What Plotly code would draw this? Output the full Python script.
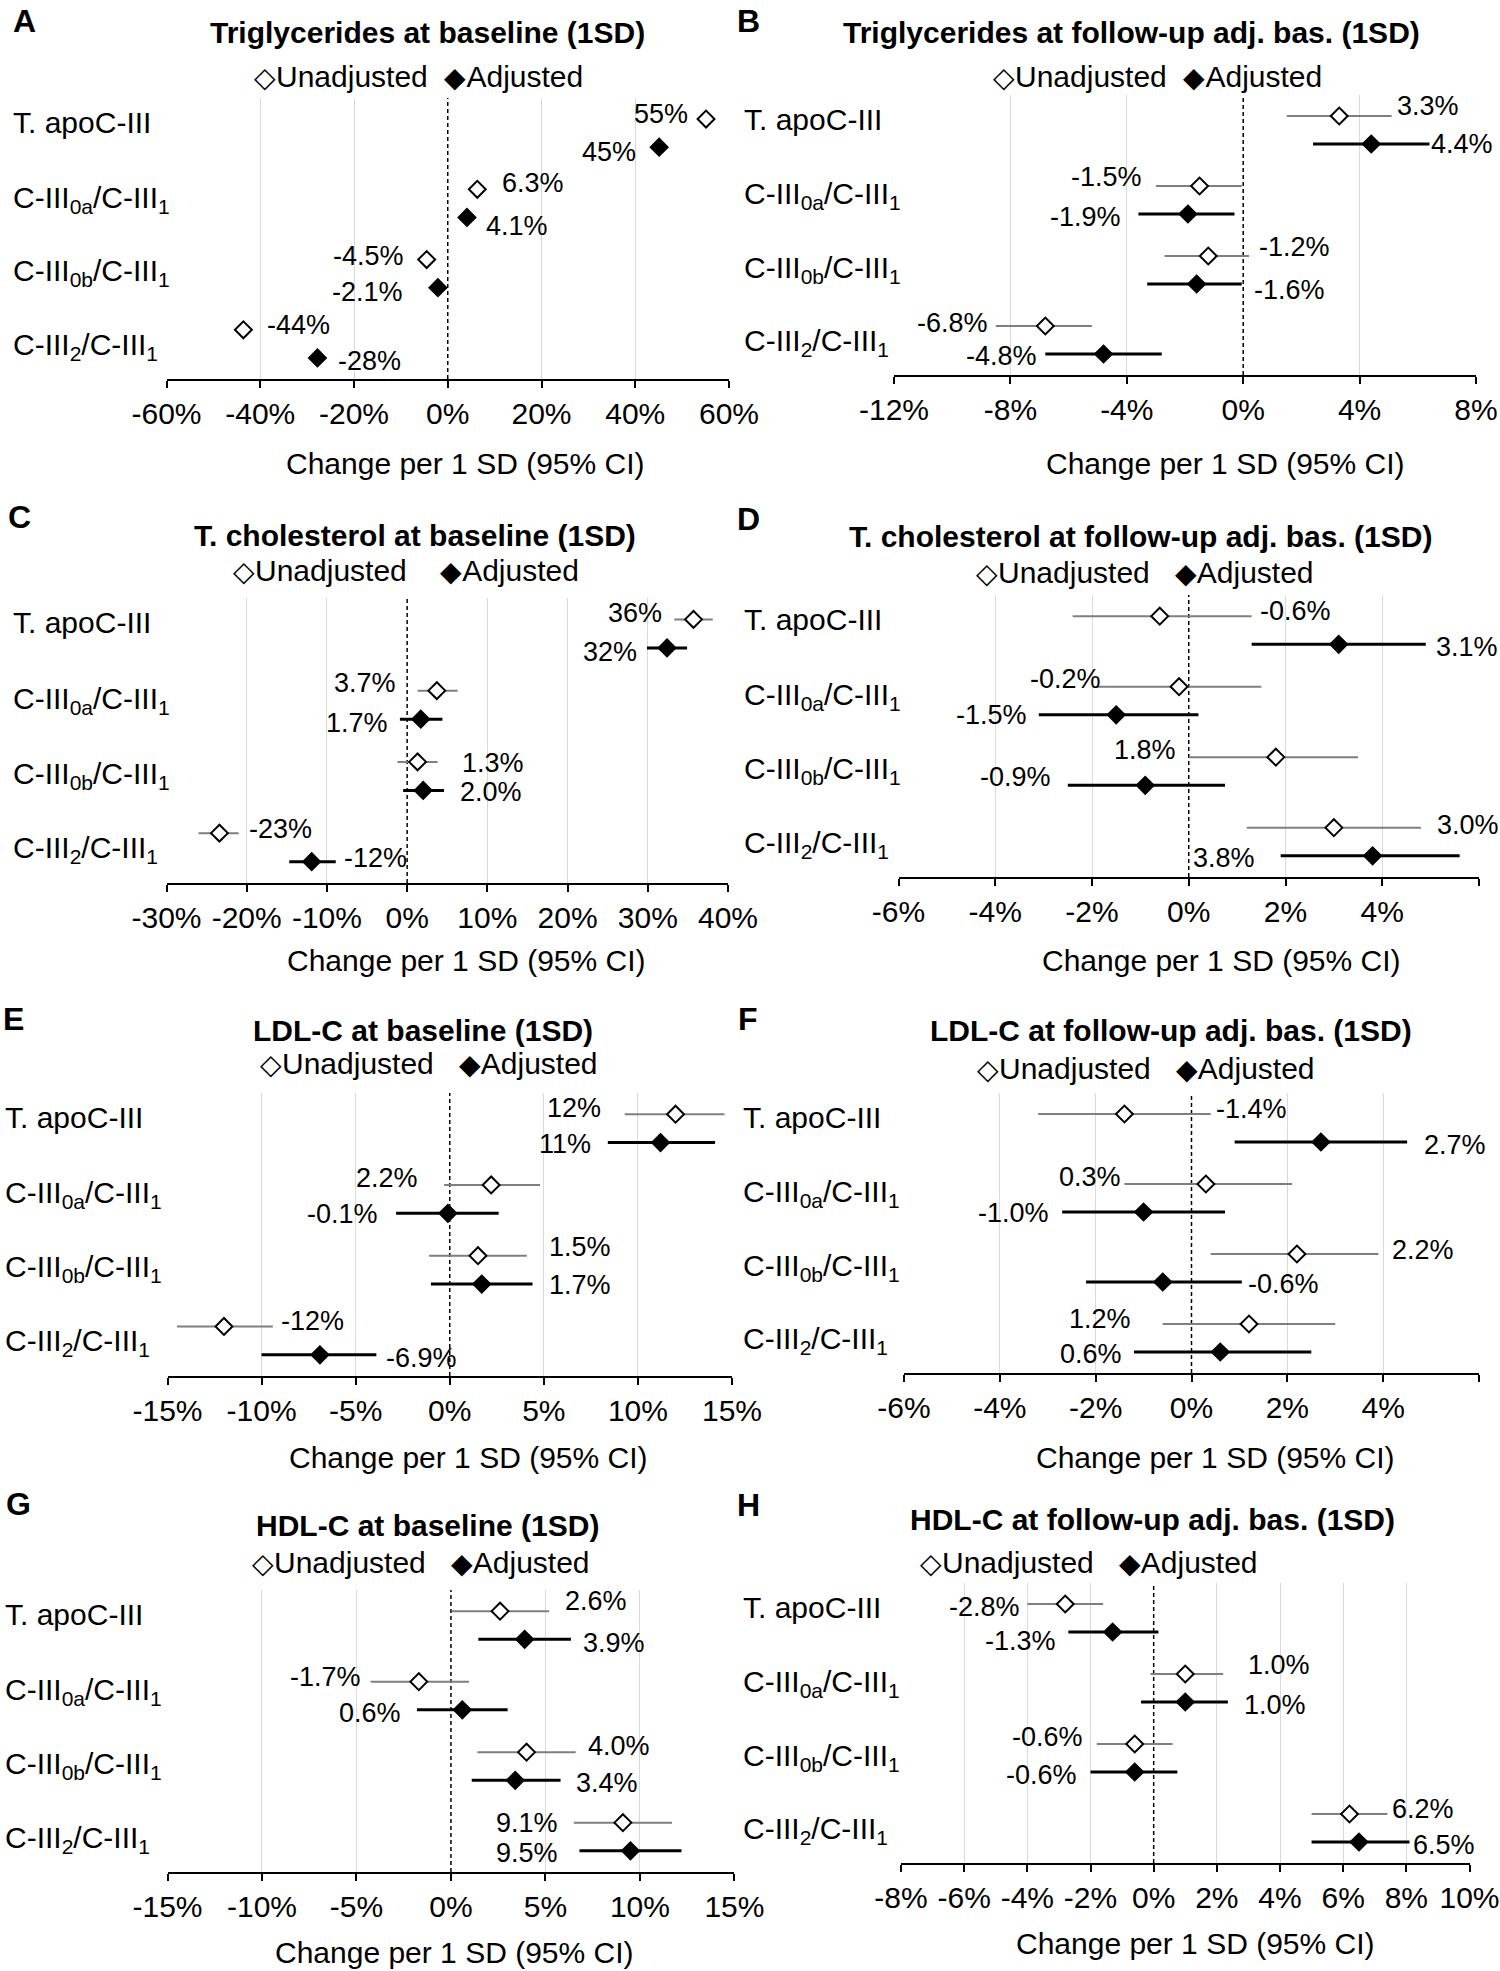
import plotly.graph_objects as go

W, H = 1500, 1971
FONT = "Arial, 'Liberation Sans', Helvetica, sans-serif"

# ---------------- data ----------------
CATEGORIES = ["T. apoC-III",
              "C-III<sub>0a</sub>/C-III<sub>1</sub>",
              "C-III<sub>0b</sub>/C-III<sub>1</sub>",
              "C-III<sub>2</sub>/C-III<sub>1</sub>"]
SERIES = ["Unadjusted", "Adjusted"]
AXIS_TITLE = "Change per 1 SD (95% CI)"

TITLE_A = "Triglycerides at baseline (1SD)"
TICKS_A = [-60, -40, -20, 0, 20, 40, 60]
UNADJ_A = [55.1, 6.3, -4.5, -43.6]
UNADJ_LO_A = [54.2, 5.6, -5.2, -44.5]
UNADJ_HI_A = [56.0, 7.0, -3.8, -42.7]
ADJ_A = [45.1, 4.1, -2.1, -27.8]
ADJ_LO_A = [43.9, 3.1, -3.1, -29.2]
ADJ_HI_A = [46.3, 5.1, -1.1, -26.4]

TITLE_B = "Triglycerides at follow-up adj. bas. (1SD)"
TICKS_B = [-12, -8, -4, 0, 4, 8]
UNADJ_B = [3.3, -1.5, -1.2, -6.8]
UNADJ_LO_B = [1.5, -3.0, -2.7, -8.5]
UNADJ_HI_B = [5.1, -0.05, 0.2, -5.2]
ADJ_B = [4.4, -1.9, -1.6, -4.8]
ADJ_LO_B = [2.4, -3.6, -3.3, -6.8]
ADJ_HI_B = [6.4, -0.3, -0.05, -2.8]

TITLE_C = "T. cholesterol at baseline (1SD)"
TICKS_C = [-30, -20, -10, 0, 10, 20, 30, 40]
UNADJ_C = [35.7, 3.7, 1.3, -23.4]
UNADJ_LO_C = [33.3, 1.3, -1.2, -26.0]
UNADJ_HI_C = [38.1, 6.3, 3.8, -21.0]
ADJ_C = [32.4, 1.7, 2.0, -11.9]
ADJ_LO_C = [29.9, -0.9, -0.5, -14.7]
ADJ_HI_C = [34.9, 4.4, 4.6, -8.9]

TITLE_D = "T. cholesterol at follow-up adj. bas. (1SD)"
TICKS_D = [-6, -4, -2, 0, 2, 4, 6]
UNADJ_D = [-0.6, -0.2, 1.8, 3.0]
UNADJ_LO_D = [-2.4, -1.9, 0.0, 1.2]
UNADJ_HI_D = [1.3, 1.5, 3.5, 4.8]
ADJ_D = [3.1, -1.5, -0.9, 3.8]
ADJ_LO_D = [1.3, -3.1, -2.5, 1.9]
ADJ_HI_D = [4.9, 0.2, 0.75, 5.6]

TITLE_E = "LDL-C at baseline (1SD)"
TICKS_E = [-15, -10, -5, 0, 5, 10, 15]
UNADJ_E = [12.0, 2.2, 1.5, -12.0]
UNADJ_LO_E = [9.3, -0.3, -1.1, -14.5]
UNADJ_HI_E = [14.6, 4.8, 4.1, -9.4]
ADJ_E = [11.2, -0.1, 1.7, -6.9]
ADJ_LO_E = [8.4, -2.85, -1.0, -10.0]
ADJ_HI_E = [14.1, 2.6, 4.4, -3.9]

TITLE_F = "LDL-C at follow-up adj. bas. (1SD)"
TICKS_F = [-6, -4, -2, 0, 2, 4, 6]
UNADJ_F = [-1.4, 0.3, 2.2, 1.2]
UNADJ_LO_F = [-3.2, -1.4, 0.4, -0.6]
UNADJ_HI_F = [0.4, 2.1, 3.9, 3.0]
ADJ_F = [2.7, -1.0, -0.6, 0.6]
ADJ_LO_F = [0.9, -2.7, -2.2, -1.2]
ADJ_HI_F = [4.5, 0.7, 1.05, 2.5]

TITLE_G = "HDL-C at baseline (1SD)"
TICKS_G = [-15, -10, -5, 0, 5, 10, 15]
UNADJ_G = [2.6, -1.7, 4.0, 9.1]
UNADJ_LO_G = [0.05, -4.25, 1.4, 6.5]
UNADJ_HI_G = [5.2, 0.95, 6.6, 11.7]
ADJ_G = [3.9, 0.6, 3.4, 9.5]
ADJ_LO_G = [1.45, -1.8, 1.1, 6.8]
ADJ_HI_G = [6.35, 3.0, 5.8, 12.2]

TITLE_H = "HDL-C at follow-up adj. bas. (1SD)"
TICKS_H = [-8, -6, -4, -2, 0, 2, 4, 6, 8, 10]
UNADJ_H = [-2.8, 1.0, -0.6, 6.2]
UNADJ_LO_H = [-4.0, -0.1, -1.8, 5.0]
UNADJ_HI_H = [-1.6, 2.2, 0.6, 7.4]
ADJ_H = [-1.3, 1.0, -0.6, 6.5]
ADJ_LO_H = [-2.7, -0.4, -2.0, 5.0]
ADJ_HI_H = [0.15, 2.35, 0.75, 8.1]

# ---------------- layout (pixel geometry / label placement) ----------------
GEOM = {
    "A": dict(x0=166.5, x1=729, y0=98, y1=379, title=(427, 32), legend=(418.5, 77), gap=2,
              xtitle=(466, 463), letter=(24, 21), labx=10.5),
    "B": dict(x0=894, x1=1476, y0=95, y1=375, title=(1131.5, 32), legend=(1157, 77), gap=2,
              xtitle=(1225, 463), letter=(748, 21), labx=742),
    "C": dict(x0=166.5, x1=728, y0=598, y1=883, title=(414.5, 535), legend=(406, 570), gap=4,
              xtitle=(466.5, 960), letter=(19, 517), labx=10.5),
    "D": dict(x0=898.5, x1=1479, y0=595, y1=877, title=(1140, 536), legend=(1144.5, 572), gap=3,
              xtitle=(1221.6, 960), letter=(748, 519), labx=742),
    "E": dict(x0=167.5, x1=732, y0=1093, y1=1376, title=(423, 1030), legend=(429, 1063), gap=3,
              xtitle=(468, 1457), letter=(13, 1019), labx=2.5),
    "F": dict(x0=904, x1=1479, y0=1093, y1=1373, title=(1171, 1030), legend=(1145.5, 1068), gap=3,
              xtitle=(1215, 1457), letter=(748, 1019), labx=740.5),
    "G": dict(x0=167.5, x1=734.4, y0=1590, y1=1872, title=(427.5, 1525), legend=(420.5, 1562), gap=3,
              xtitle=(454.5, 1952), letter=(18, 1504), labx=2.5),
    "H": dict(x0=901, x1=1469.5, y0=1583, y1=1863, title=(1152, 1519), legend=(1089, 1562), gap=3,
              xtitle=(1195.6, 1943), letter=(748, 1505), labx=740.5),
}

# data-label placement: order = [unadj1, adj1, unadj2, adj2, ...]
LABEL_SIDE = {
    "A": "LLRRLLRR", "B": "RRLLRRLL", "C": "LLLLRRRR", "D": "RRLLLLRL",
    "E": "LLLLRRRR", "F": "RRLLRRLL", "G": "RRLLRRLL", "H": "LLRRLLRR",
}
LABEL_DY = {
    "A": [5, -5, 6, -9, 4, -4, 5, -3],
    "B": [10, 0, 9, -3, 9, -6, 3, -2],
    "C": [6, -4, 8, -4, -1, -2, 4, 4],
    "D": [5, -3, 8, 0, 7, 8, 3, -2],
    "E": [6, -1, 7, -1, 9, -1, 5, -3],
    "F": [5, -3, 7, -1, 4, -2, 5, -2],
    "G": [10, -4, 5, -3, 6, -3, 0, -2],
    "H": [-3, -9, 9, -3, 7, -3, 5, -3],
}
LABEL_GAP = {
    "A": [7, 12, 14, 8, 12, 24, 13, 10],
    "B": [3, 0, 12, 15, 8, 10, 6, 6],
    "C": [10, 8, 20, 10, 22, 14, 8, 6],
    "D": [6, 8, -6, 10, 11, 15, 14, 24],
    "E": [22, 15, 24, 16, 20, 14, 6, 8],
    "F": [3, 15, 1, 11, 12, 4, 30, 10],
    "G": [14, 10, 8, 14, 10, 13, 14, 19],
    "H": [5, 10, 23, 14, 12, 12, 3, 2],
}

PANELS = [
    ("A", TITLE_A, TICKS_A, (UNADJ_A, UNADJ_LO_A, UNADJ_HI_A), (ADJ_A, ADJ_LO_A, ADJ_HI_A)),
    ("B", TITLE_B, TICKS_B, (UNADJ_B, UNADJ_LO_B, UNADJ_HI_B), (ADJ_B, ADJ_LO_B, ADJ_HI_B)),
    ("C", TITLE_C, TICKS_C, (UNADJ_C, UNADJ_LO_C, UNADJ_HI_C), (ADJ_C, ADJ_LO_C, ADJ_HI_C)),
    ("D", TITLE_D, TICKS_D, (UNADJ_D, UNADJ_LO_D, UNADJ_HI_D), (ADJ_D, ADJ_LO_D, ADJ_HI_D)),
    ("E", TITLE_E, TICKS_E, (UNADJ_E, UNADJ_LO_E, UNADJ_HI_E), (ADJ_E, ADJ_LO_E, ADJ_HI_E)),
    ("F", TITLE_F, TICKS_F, (UNADJ_F, UNADJ_LO_F, UNADJ_HI_F), (ADJ_F, ADJ_LO_F, ADJ_HI_F)),
    ("G", TITLE_G, TICKS_G, (UNADJ_G, UNADJ_LO_G, UNADJ_HI_G), (ADJ_G, ADJ_LO_G, ADJ_HI_G)),
    ("H", TITLE_H, TICKS_H, (UNADJ_H, UNADJ_LO_H, UNADJ_HI_H), (ADJ_H, ADJ_LO_H, ADJ_HI_H)),
]

STYLE = {
    "Unadjusted": dict(fill="white", line="black", ci="#7f7f7f", ciw=2, offset=0.2),
    "Adjusted": dict(fill="black", line="black", ci="black", ciw=3, offset=-0.2),
}
MARKER_SIZE = 13
MARKER_HALF = 9
TEXT_SIZE = 30
LABEL_SIZE = 27


def fmt(v):
    return f"{v:.0f}%" if abs(v) >= 9.95 else f"{v:.1f}%"


def px(x):
    return x / W


def py(y):
    return 1 - y / H


fig = go.Figure()
annotations = []
n_cat = len(CATEGORIES)

for k, (key, title, ticks, unadj, adj) in enumerate(PANELS, start=1):
    g = GEOM[key]
    sid = "" if k == 1 else str(k)
    xa, ya = "x" + sid, "y" + sid
    xmin, xmax = ticks[0], ticks[-1]
    ppu = (g["x1"] - g["x0"]) / (xmax - xmin)

    fig.update_layout(**{
        "xaxis" + sid: dict(
            domain=[px(g["x0"]), px(g["x1"])], anchor=ya, range=[xmin, xmax],
            tickvals=ticks, ticktext=[f"{t}%" for t in ticks], automargin=False,
            showline=True, linecolor="black", linewidth=2,
            ticks="outside", ticklen=7, tickwidth=2, tickcolor="black",
            showgrid=True, gridcolor="#d9d9d9", gridwidth=1, zeroline=False,
            tickfont=dict(size=TEXT_SIZE, color="black", family=FONT), fixedrange=True,
        ),
        "yaxis" + sid: dict(
            domain=[py(g["y1"]), py(g["y0"])], anchor=xa, range=[0.5, n_cat + 0.5],
            showticklabels=False, showgrid=False, zeroline=False, showline=False,
            ticks="", fixedrange=True, automargin=False,
        ),
    })

    # zero reference line (dashed), drawn through the axes' own scale
    fig.add_trace(go.Scatter(x=[0, 0], y=[0.5, n_cat + 0.5], mode="lines", showlegend=False,
                             hoverinfo="skip", xaxis=xa, yaxis=ya,
                             line=dict(color="white", width=3)))
    fig.add_trace(go.Scatter(x=[0, 0], y=[0.5, n_cat + 0.5], mode="lines", showlegend=False,
                             hoverinfo="skip", xaxis=xa, yaxis=ya,
                             line=dict(color="black", width=1.5, dash="4px,3px")))

    for s_idx, (name, (vals, lo, hi)) in enumerate(zip(SERIES, (unadj, adj))):
        st = STYLE[name]
        ys = [n_cat - i + st["offset"] for i in range(n_cat)]
        fig.add_trace(go.Scatter(
            x=vals, y=ys, mode="markers", name=name, showlegend=False,
            xaxis=xa, yaxis=ya, cliponaxis=False,
            marker=dict(symbol="diamond", size=MARKER_SIZE, color=st["fill"],
                        line=dict(color=st["line"], width=2)),
            error_x=dict(type="data", symmetric=False,
                         array=[h - v for v, h in zip(vals, hi)],
                         arrayminus=[v - l for v, l in zip(vals, lo)],
                         width=0, thickness=st["ciw"], color=st["ci"]),
        ))
        for i in range(n_cat):
            j = 2 * i + s_idx
            side = LABEL_SIDE[key][j]
            v = vals[i]
            if side == "R":
                ext = max((hi[i] - v) * ppu, MARKER_HALF) + LABEL_GAP[key][j]
                xanchor, xshift = "left", ext
            else:
                ext = max((v - lo[i]) * ppu, MARKER_HALF) + LABEL_GAP[key][j]
                xanchor, xshift = "right", -ext
            annotations.append(dict(
                x=v, y=ys[i], xref=xa, yref=ya, text=fmt(v), showarrow=False,
                xanchor=xanchor, yanchor="middle", xshift=xshift, yshift=LABEL_DY[key][j],
                font=dict(size=LABEL_SIZE, color="black", family=FONT),
            ))

    # category labels
    for i, cat in enumerate(CATEGORIES):
        ylab = n_cat - i + 0.15 - 0.047 * i
        annotations.append(dict(
            x=px(g["labx"]), y=ylab, xref="paper", yref=ya, text=cat, showarrow=False,
            xanchor="left", yanchor="middle", yshift=(-3 if "<sub>" in cat else 0),
            font=dict(size=TEXT_SIZE, color="black", family=FONT),
        ))

    # title
    annotations.append(dict(
        x=px(g["title"][0]), y=py(g["title"][1]), xref="paper", yref="paper",
        text=f"<b>{title}</b>", showarrow=False, xanchor="center", yanchor="middle",
        font=dict(size=TEXT_SIZE, color="black", family=FONT),
    ))
    # legend
    sp = "\u00a0" * g["gap"]
    legend_text = (f"<span style='font-size:28px'>\u25c7</span>{SERIES[0]}{sp}"
                   f"<span style='font-size:28px'>\u25c6</span>{SERIES[1]}")
    annotations.append(dict(
        x=px(g["legend"][0]), y=py(g["legend"][1]), xref="paper", yref="paper",
        text=legend_text, showarrow=False, xanchor="center", yanchor="middle",
        font=dict(size=TEXT_SIZE, color="black", family=FONT),
    ))
    # x axis title
    annotations.append(dict(
        x=px(g["xtitle"][0]), y=py(g["xtitle"][1]), xref="paper", yref="paper",
        text=AXIS_TITLE, showarrow=False, xanchor="center", yanchor="middle",
        font=dict(size=TEXT_SIZE, color="black", family=FONT),
    ))
    # panel letter
    annotations.append(dict(
        x=px(g["letter"][0]), y=py(g["letter"][1]), xref="paper", yref="paper",
        text=f"<b>{key}</b>", showarrow=False, xanchor="center", yanchor="middle",
        font=dict(size=32, color="black", family=FONT),
    ))

fig.update_layout(
    template="none",
    width=W, height=H, margin=dict(l=0, r=0, t=0, b=0, pad=0, autoexpand=False),
    paper_bgcolor="white", plot_bgcolor="white",
    font=dict(family=FONT, color="black"),
    showlegend=False,
    annotations=annotations,
)

fig.write_html("out.html", config={"displayModeBar": False},
               post_script="document.body.style.margin='0px';")
